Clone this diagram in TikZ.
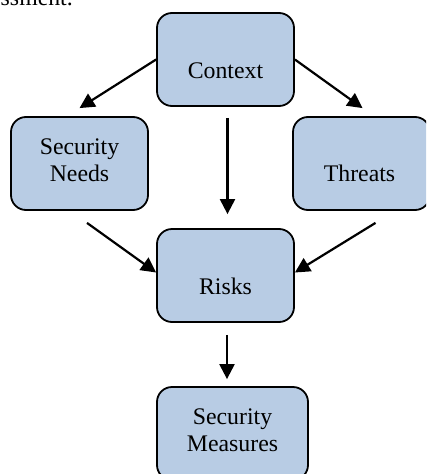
\documentclass[tikz,border=0pt]{standalone}
\usepackage{fontspec}
\setmainfont{Liberation Serif}
\usetikzlibrary{arrows.meta}
\definecolor{boxblue}{HTML}{B8CCE4}
\begin{document}
\begin{tikzpicture}[x=1pt,y=-1pt,
  box/.style={draw=black,fill=boxblue,line width=1.8pt,rounded corners=15pt,inner sep=0pt,minimum height=93pt},
  lbl/.style={inner sep=0pt,font=\fontsize{23.8}{27}\selectfont,align=center},
  arr/.style={line width=2.2pt,-{Triangle[length=15pt,width=15pt]}}]
\useasboundingbox (0,0) rectangle (426,474);
\clip (0,0) rectangle (426,474);
\node[lbl,anchor=base east] (top) at (73,5) {assessment.};
\node[box,minimum width=137pt] (ctx) at (225.5,59.5) {};
\node[box,minimum width=137pt] (sn) at (79.5,163.5) {};
\node[box,minimum width=137pt] (th) at (361.5,163.5) {};
\node[box,minimum width=137pt] (rk) at (225.5,275.5) {};
\node[box,minimum width=151pt] (sm) at (232.5,433.5) {};
\node[lbl,anchor=base] (ctxt) at (ctx.center |- 0,78) {Context};
\node[lbl,anchor=base] (snt) at (sn.center |- 0,181) {Security\\Needs};
\node[lbl,anchor=base] (tht) at (359.5,181) {Threats};
\node[lbl,anchor=base] (rkt) at (rk.center |- 0,294) {Risks};
\node[lbl,anchor=base] (smt) at (sm.center |- 0,451) {Security\\Measures};
\draw[arr] (ctx.west) -- ([yshift=8pt]sn.north);
\draw[arr] (ctx.east) -- ([xshift=1pt,yshift=8pt]th.north);
\draw[arr,shorten <=11pt,shorten >=14pt] ([xshift=2pt]ctx.south) -- ([xshift=2pt]rk.north);
\draw[arr] ([shift={(7.5pt,-12pt)}]sn.south) -- ([yshift=3pt]rk.west);
\draw[arr] ([shift={(14pt,-12pt)}]th.south) -- ([yshift=3pt]rk.east);
\draw[arr,shorten <=12pt,shorten >=7pt] ([xshift=1.5pt]rk.south) -- ([xshift=-5.5pt]sm.north);
\end{tikzpicture}
\end{document}
